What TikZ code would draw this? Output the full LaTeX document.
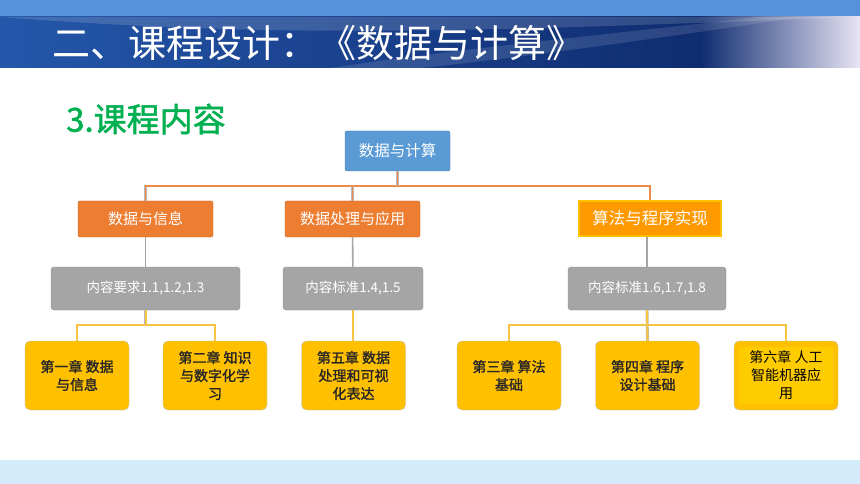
\documentclass[tikz,border=0pt]{standalone}
\usepackage{fontspec}
\setmainfont{Noto Sans CJK SC}
\newfontfamily\cjkbold{Noto Sans CJK SC}[FakeBold=1.5]
\usetikzlibrary{positioning}
\definecolor{topband}{HTML}{5592DA}
\definecolor{bannerA}{HTML}{2457AA}
\definecolor{bannerB}{HTML}{0F2C70}
\definecolor{bannerC}{HTML}{E8E4F4}
\definecolor{rootblue}{HTML}{5B9BD5}
\definecolor{catorange}{HTML}{ED7D31}
\definecolor{algoorange}{HTML}{FF9900}
\definecolor{algoedge}{HTML}{FFC000}
\definecolor{stdgrey}{HTML}{A5A5A5}
\definecolor{chapgold}{HTML}{FFC000}
\definecolor{chapinner}{HTML}{FFCC00}
\definecolor{linkorange}{HTML}{EE8A4A}
\definecolor{linkgold}{HTML}{F6C443}
\definecolor{titlegreen}{HTML}{00B050}
\definecolor{footband}{HTML}{D2ECFC}
\begin{document}
\begin{tikzpicture}[x=1pt,y=-1pt,
  cat/.style={draw=catorange!80!black, fill=catorange, rounded corners=2pt, minimum width=135pt, minimum height=36pt, text=white, font=\fontsize{15}{15}\selectfont},
  std/.style={draw=stdgrey!90!black, fill=stdgrey, rounded corners=3pt, minimum height=43pt, text=white, font=\fontsize{13.5}{13.5}\selectfont},
  chap/.style={draw=gray!50, fill=chapgold, rounded corners=5pt, minimum width=104pt, minimum height=69pt, align=center, text=black!85, font=\cjkbold\fontsize{14}{18}\selectfont},
  toplink/.style={draw=gray!55, double=linkorange, double distance=1.8pt, line width=0.45pt},
  midlink/.style={draw=stdgrey, line width=1.6pt},
  lowlink/.style={draw=gray!55, double=linkgold, double distance=2pt, line width=0.45pt}]
\useasboundingbox (0,0) rectangle (860,484);
% bands
\fill[topband] (0,0) rectangle (860,17);
\shade[left color=bannerA, right color=bannerB] (0,17) rectangle (700,68);
\shade[left color=bannerB, right color=bannerC] (700,17) rectangle (860,68);
\fill[white, opacity=0.15] (0,17) .. controls (300,40) and (500,30) .. (860,17) -- cycle;
\fill[white, opacity=0.12] (330,68) .. controls (450,50) and (600,35) .. (760,17) -- (800,17) .. controls (650,40) and (500,60) .. (420,68) -- cycle;
\fill[footband] (0,460) rectangle (860,484);
% titles
\node[anchor=west, text=white, inner sep=0pt, font=\fontsize{38}{38}\selectfont] (title) at (52,43) {二、课程设计：《数据与计算》};
\node[anchor=west, text=titlegreen, inner sep=0pt, font=\cjkbold\fontsize{33}{33}\selectfont] (sub) at (66,119) {3.课程内容};

% tree
\node[draw=rootblue!80!black, fill=rootblue, rounded corners=2pt, minimum width=105pt, minimum height=40pt, text=white, font=\fontsize{15.5}{15.5}\selectfont] (root) at (397.5,151) {数据与计算};

\node[cat] (info) at (145.5,219) {数据与信息};
\node[cat] (proc) at (352.5,219) {数据处理与应用};
\node[draw=algoedge, line width=1.2pt, fill=algoorange, minimum width=142pt, minimum height=35pt, text=white, font=\fontsize{16.5}{16.5}\selectfont] (algo) at (650,218.5) {算法与程序实现};

\node[std, minimum width=189pt] (s1) at (145.5,288.5) {内容要求1.1,1.2,1.3};
\node[std, minimum width=140pt] (s2) at (353,288.5) {内容标准1.4,1.5};
\node[std, minimum width=158pt] (s3) at (647,288.5) {内容标准1.6,1.7,1.8};

\node[chap] (ch1) at (77,375.5) {第一章 数据\\与信息};
\node[chap] (ch2) at (215,375.5) {第二章 知识\\与数字化学\\习};
\node[chap] (ch5) at (353.5,375.5) {第五章 数据\\处理和可视\\化表达};
\node[chap] (ch3) at (509,375.5) {第三章 算法\\基础};
\node[chap] (ch4) at (647.5,375.5) {第四章 程序\\设计基础};
\node[chap] (ch6) at (786,375.5) {};
\fill[chapinner] ([shift={(5pt,-6pt)}]ch6.north west) rectangle ([shift={(-5pt,6pt)}]ch6.south east);
\node[align=center, text=black, font=\fontsize{14}{18}\selectfont] (ch6t) at (ch6) {第六章 人工\\智能机器应\\用};

\path[toplink] (info.north) |- (root.south |- 0,186) -| (algo.north);
\path[toplink] (root.south) -- (root.south |- 0,186);
\path[toplink] (proc.north) -- (proc.north |- 0,186);

\path[midlink] (info) -- (s1);
\path[midlink] (proc) -- (s2);
\path[midlink] (algo.south -| s3) -- (s3);

\path[lowlink] (ch1.north) |- (s1.south |- 0,325) -| (ch2.north);
\path[lowlink] (s1.south) -- (s1.south |- 0,325);
\path[lowlink] (s2.south) -- (ch5.north -| s2.south);
\path[lowlink] (ch3.north) |- (s3.south |- 0,325) -| (ch6.north);
\path[lowlink] (s3.south) -- (ch4.north);
\end{tikzpicture}
\end{document}
